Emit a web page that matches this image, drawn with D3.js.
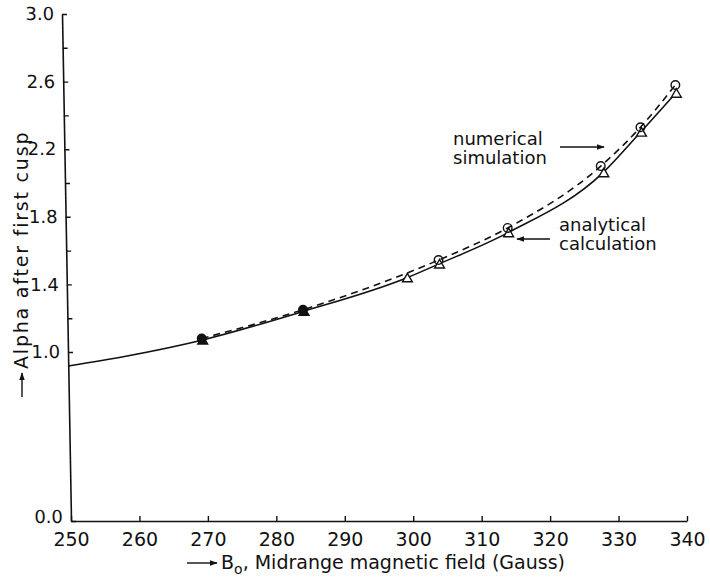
<!DOCTYPE html>
<html>
<head>
<meta charset="utf-8">
<script src="https://cdn.jsdelivr.net/npm/d3@7"></script>
<style>
  body { margin: 0; background: #fff; }
  svg { display: block; }
</style>
</head>
<body>
<div id="chart"></div>
<script>
// analytical calculation (solid line)
var analyticalField = [249.6, 258, 269.1, 283.9, 299.0, 303.7, 313.8, 327.7, 333.2, 338.3];
var analyticalAlpha = [0.917, 0.975, 1.07, 1.24, 1.438, 1.52, 1.705, 2.06, 2.30, 2.53];

// triangles on the analytical curve
var triangleField = [269.1, 283.9, 299.0, 303.7, 313.8, 327.7, 333.2, 338.3];
var triangleAlpha = [1.07, 1.24, 1.438, 1.52, 1.705, 2.06, 2.30, 2.53];

// numerical simulation (circles, dashed line)
var numericalField = [269.1, 283.9, 303.7, 313.8, 327.4, 333.2, 338.3];
var numericalAlpha = [1.08, 1.25, 1.544, 1.734, 2.10, 2.33, 2.58];

var xTicks = [250, 260, 270, 280, 290, 300, 310, 320, 330, 340];
var yTicks = [0, 1.0, 1.2, 1.4, 1.6, 1.8, 2.0, 2.2, 2.4, 2.6, 2.8, 3.0];
var yTickLabels = ["0.0", "1.0", "1.4", "1.8", "2.2", "2.6", "3.0"];

var w = 710, h = 577;
var ink = "#111";
var font = "'DejaVu Sans', sans-serif";

var svg = d3.select("#chart").append("svg")
  .attr("width", w)
  .attr("height", h);

var xScale = d3.scaleLinear().domain([250, 340]).range([71, 687]);
var yScale = d3.scaleLinear().domain([0, 3]).range([521, 14]);

// x axis, ticks pointing up
var xAxis = svg.append("g")
  .attr("transform", "translate(0," + yScale(0) + ")")
  .call(d3.axisBottom(xScale)
    .tickValues(xTicks)
    .tickFormat(d3.format("d"))
    .tickSizeInner(-5)
    .tickSizeOuter(0)
    .tickPadding(12));

// y axis, the scanned original leans slightly, so skew it a little
var lean = 9 / 507;
var yAxis = svg.append("g")
  .attr("transform", "translate(" + (71 - lean * yScale(0)) + ",0) skewX(" + (Math.atan(lean) * 180 / Math.PI) + ")")
  .call(d3.axisLeft(yScale)
    .tickValues(yTicks)
    .tickFormat(function(d) {
      var s = d3.format(".1f")(d);
      return yTickLabels.indexOf(s) >= 0 ? s : "";
    })
    .tickSizeInner(-5)
    .tickSizeOuter(0)
    .tickPadding(8));

[xAxis, yAxis].forEach(function(g) {
  g.select(".domain").attr("stroke", ink).attr("stroke-width", 1.6);
  g.selectAll(".tick line").attr("stroke", ink).attr("stroke-width", 1.4);
  g.selectAll("text")
    .attr("fill", ink)
    .attr("font-family", font);
});
xAxis.selectAll("text").attr("font-size", "19px");
yAxis.selectAll("text").attr("font-size", "18px");
// lift the 0.0 label a little so it clears the 250 label
yAxis.selectAll(".tick text").filter(function(d) { return d === 0; }).attr("dy", "0.1em");

var line = d3.line()
  .x(function(d) { return xScale(d[0]); })
  .y(function(d) { return yScale(d[1]); })
  .curve(d3.curveMonotoneX);

svg.append("path")
  .datum(d3.zip(analyticalField, analyticalAlpha))
  .attr("d", line)
  .attr("fill", "none")
  .attr("stroke", ink)
  .attr("stroke-width", 1.6);

svg.append("path")
  .datum(d3.zip(numericalField, numericalAlpha))
  .attr("d", line)
  .attr("fill", "none")
  .attr("stroke", ink)
  .attr("stroke-width", 1.6)
  .attr("stroke-dasharray", "7,5");

// markers: the two lowest pairs overlap into solid blobs
svg.selectAll(".tri")
  .data(d3.zip(triangleField, triangleAlpha))
  .enter()
  .append("path")
  .attr("class", "tri")
  .attr("d", d3.symbol().type(d3.symbolTriangle).size(42))
  .attr("transform", function(d) { return "translate(" + (xScale(d[0]) + 1) + "," + (yScale(d[1]) + 1) + ")"; })
  .attr("fill", function(d, i) { return i < 2 ? ink : "#fff"; })
  .attr("stroke", ink)
  .attr("stroke-width", 1.4);

svg.selectAll(".circ")
  .data(d3.zip(numericalField, numericalAlpha))
  .enter()
  .append("circle")
  .attr("class", "circ")
  .attr("cx", function(d) { return xScale(d[0]); })
  .attr("cy", function(d) { return yScale(d[1]); })
  .attr("r", 4.3)
  .attr("fill", function(d, i) { return i < 2 ? ink : "none"; })
  .attr("stroke", ink)
  .attr("stroke-width", 1.4);

// arrowhead
svg.append("defs").append("marker")
  .attr("id", "head")
  .attr("viewBox", "0 0 10 10")
  .attr("refX", 9).attr("refY", 5)
  .attr("markerWidth", 8).attr("markerHeight", 8)
  .attr("markerUnits", "userSpaceOnUse")
  .attr("orient", "auto")
  .append("path")
  .attr("d", "M0,1.5L10,5L0,8.5Z")
  .attr("fill", ink);

function arrow(x1, y1, x2, y2) {
  svg.append("line")
    .attr("x1", x1).attr("y1", y1)
    .attr("x2", x2).attr("y2", y2)
    .attr("stroke", ink)
    .attr("stroke-width", 1.4)
    .attr("marker-end", "url(#head)");
}

function note(x, y, lines) {
  var t = svg.append("text")
    .attr("font-family", font)
    .attr("font-size", "18px")
    .attr("fill", ink);
  lines.forEach(function(s, i) {
    t.append("tspan").attr("x", x).attr("y", y + i * 19).text(s);
  });
}

note(453, 145, ["numerical", "simulation"]);
arrow(560, 147, 604, 147);

note(559, 231, ["analytical", "calculation"]);
arrow(550, 239, 517, 239);

// x axis title
arrow(187, 563, 217, 563);
var xt = svg.append("text")
  .attr("x", 221).attr("y", 569)
  .attr("font-family", font)
  .attr("font-size", "19px")
  .attr("fill", ink);
xt.append("tspan").text("B");
xt.append("tspan").attr("font-size", "14px").attr("dy", 5).text("o");
xt.append("tspan").attr("dy", -5).text(", Midrange magnetic field (Gauss)");

// y axis title
arrow(22, 397, 22, 373);
svg.append("text")
  .attr("transform", "translate(28,369) rotate(-90)")
  .attr("font-family", font)
  .attr("font-size", "19px")
  .attr("letter-spacing", "1.8px")
  .attr("fill", ink)
  .text("Alpha after first cusp");
</script>
</body>
</html>
